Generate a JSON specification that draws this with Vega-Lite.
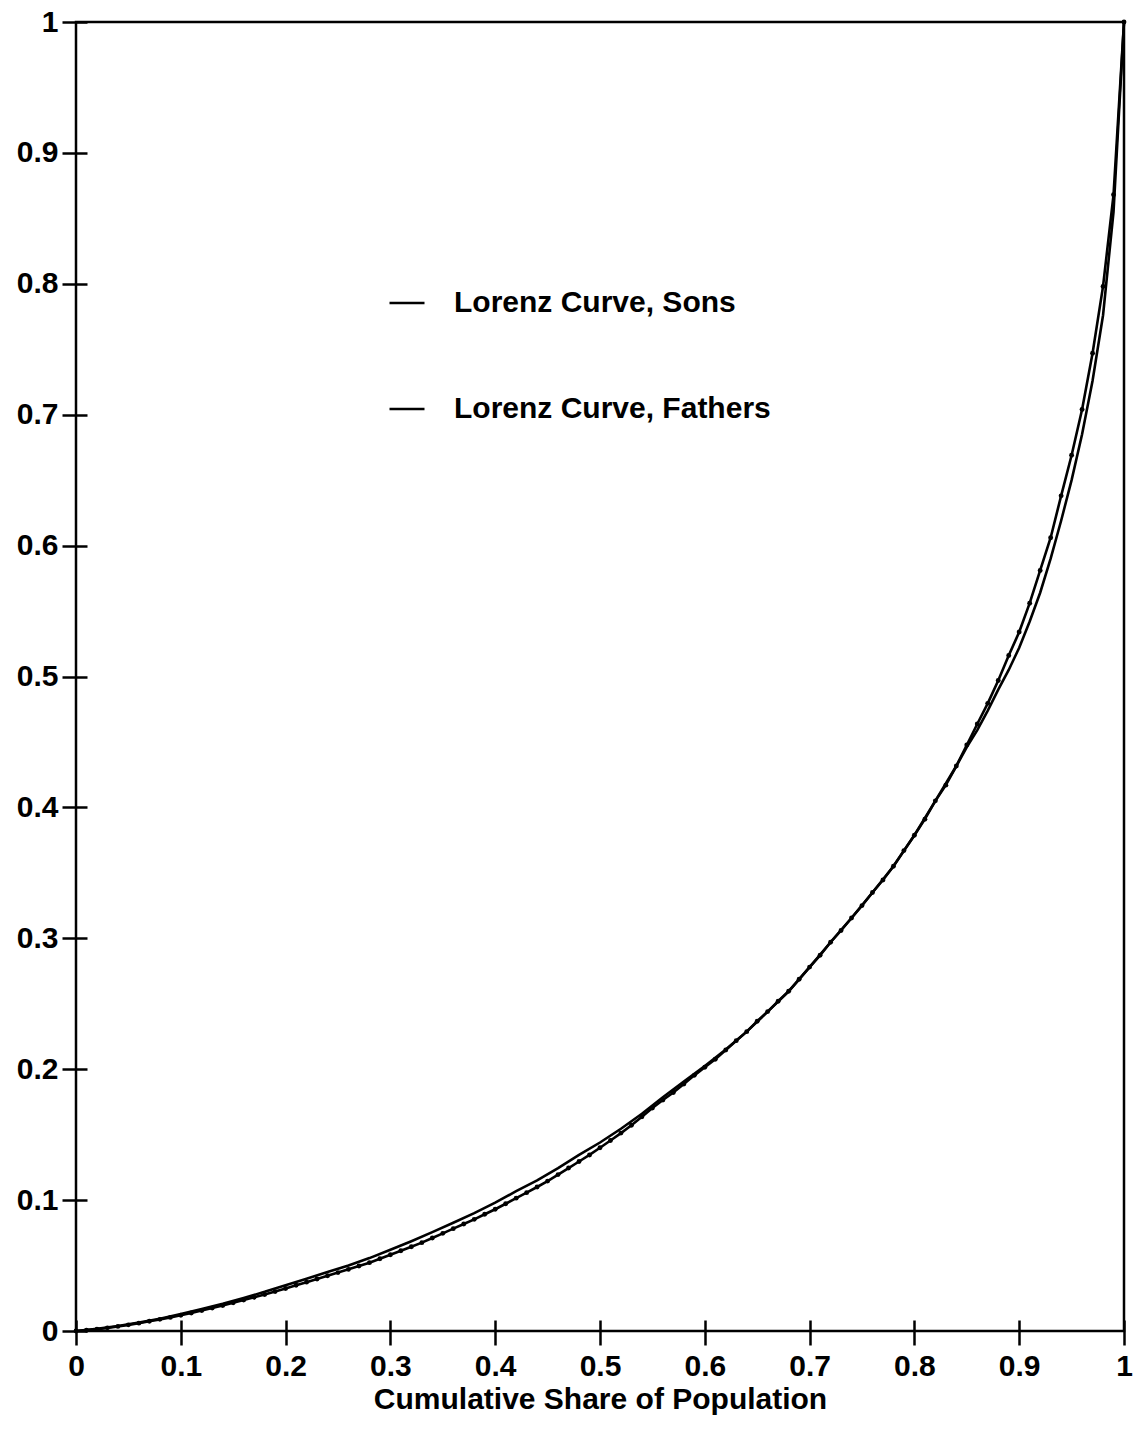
{
  "$schema": "https://vega.github.io/schema/vega-lite/v6.json",
  "autosize": {"type": "none"},
  "padding": {"left": 76, "top": 22, "right": 13, "bottom": 103},
  "width": 1048,
  "height": 1309,
  "background": "white",
  "config": {
    "view": {"stroke": "black", "strokeWidth": 2.5},
    "font": "Liberation Sans",
    "axis": {
      "domain": false,
      "grid": false,
      "offset": -11,
      "tickSize": 25,
      "tickWidth": 2.5,
      "tickColor": "black",
      "labelColor": "black",
      "labelFont": "Liberation Sans",
      "labelFontSize": 30,
      "labelFontWeight": "bold",
      "titleFont": "Liberation Sans",
      "titleFontSize": 30,
      "titleFontWeight": "bold",
      "titleColor": "black"
    }
  },
  "data": {
    "values": [
      {"series": "Lorenz Curve, Sons", "x": 0.00, "y": 0.0000},
      {"series": "Lorenz Curve, Sons", "x": 0.02, "y": 0.0016},
      {"series": "Lorenz Curve, Sons", "x": 0.04, "y": 0.0038},
      {"series": "Lorenz Curve, Sons", "x": 0.06, "y": 0.0064},
      {"series": "Lorenz Curve, Sons", "x": 0.08, "y": 0.0094},
      {"series": "Lorenz Curve, Sons", "x": 0.10, "y": 0.0130},
      {"series": "Lorenz Curve, Sons", "x": 0.12, "y": 0.0168},
      {"series": "Lorenz Curve, Sons", "x": 0.14, "y": 0.0208},
      {"series": "Lorenz Curve, Sons", "x": 0.16, "y": 0.0252},
      {"series": "Lorenz Curve, Sons", "x": 0.18, "y": 0.0299},
      {"series": "Lorenz Curve, Sons", "x": 0.20, "y": 0.0350},
      {"series": "Lorenz Curve, Sons", "x": 0.22, "y": 0.0400},
      {"series": "Lorenz Curve, Sons", "x": 0.24, "y": 0.0450},
      {"series": "Lorenz Curve, Sons", "x": 0.26, "y": 0.0501},
      {"series": "Lorenz Curve, Sons", "x": 0.28, "y": 0.0557},
      {"series": "Lorenz Curve, Sons", "x": 0.30, "y": 0.0621},
      {"series": "Lorenz Curve, Sons", "x": 0.32, "y": 0.0686},
      {"series": "Lorenz Curve, Sons", "x": 0.34, "y": 0.0755},
      {"series": "Lorenz Curve, Sons", "x": 0.36, "y": 0.0827},
      {"series": "Lorenz Curve, Sons", "x": 0.38, "y": 0.0900},
      {"series": "Lorenz Curve, Sons", "x": 0.40, "y": 0.0980},
      {"series": "Lorenz Curve, Sons", "x": 0.42, "y": 0.1068},
      {"series": "Lorenz Curve, Sons", "x": 0.44, "y": 0.1150},
      {"series": "Lorenz Curve, Sons", "x": 0.46, "y": 0.1245},
      {"series": "Lorenz Curve, Sons", "x": 0.48, "y": 0.1345},
      {"series": "Lorenz Curve, Sons", "x": 0.50, "y": 0.1440},
      {"series": "Lorenz Curve, Sons", "x": 0.52, "y": 0.1545},
      {"series": "Lorenz Curve, Sons", "x": 0.54, "y": 0.1660},
      {"series": "Lorenz Curve, Sons", "x": 0.56, "y": 0.1785},
      {"series": "Lorenz Curve, Sons", "x": 0.58, "y": 0.1905},
      {"series": "Lorenz Curve, Sons", "x": 0.60, "y": 0.2025},
      {"series": "Lorenz Curve, Sons", "x": 0.62, "y": 0.2150},
      {"series": "Lorenz Curve, Sons", "x": 0.64, "y": 0.2287},
      {"series": "Lorenz Curve, Sons", "x": 0.66, "y": 0.2440},
      {"series": "Lorenz Curve, Sons", "x": 0.68, "y": 0.2595},
      {"series": "Lorenz Curve, Sons", "x": 0.70, "y": 0.2780},
      {"series": "Lorenz Curve, Sons", "x": 0.72, "y": 0.2970},
      {"series": "Lorenz Curve, Sons", "x": 0.74, "y": 0.3155},
      {"series": "Lorenz Curve, Sons", "x": 0.76, "y": 0.3350},
      {"series": "Lorenz Curve, Sons", "x": 0.78, "y": 0.3550},
      {"series": "Lorenz Curve, Sons", "x": 0.80, "y": 0.3787},
      {"series": "Lorenz Curve, Sons", "x": 0.82, "y": 0.4050},
      {"series": "Lorenz Curve, Sons", "x": 0.84, "y": 0.4316},
      {"series": "Lorenz Curve, Sons", "x": 0.85, "y": 0.4460},
      {"series": "Lorenz Curve, Sons", "x": 0.86, "y": 0.4590},
      {"series": "Lorenz Curve, Sons", "x": 0.87, "y": 0.4740},
      {"series": "Lorenz Curve, Sons", "x": 0.88, "y": 0.4900},
      {"series": "Lorenz Curve, Sons", "x": 0.89, "y": 0.5050},
      {"series": "Lorenz Curve, Sons", "x": 0.90, "y": 0.5220},
      {"series": "Lorenz Curve, Sons", "x": 0.91, "y": 0.5420},
      {"series": "Lorenz Curve, Sons", "x": 0.92, "y": 0.5640},
      {"series": "Lorenz Curve, Sons", "x": 0.93, "y": 0.5900},
      {"series": "Lorenz Curve, Sons", "x": 0.94, "y": 0.6190},
      {"series": "Lorenz Curve, Sons", "x": 0.95, "y": 0.6500},
      {"series": "Lorenz Curve, Sons", "x": 0.96, "y": 0.6850},
      {"series": "Lorenz Curve, Sons", "x": 0.97, "y": 0.7260},
      {"series": "Lorenz Curve, Sons", "x": 0.98, "y": 0.7760},
      {"series": "Lorenz Curve, Sons", "x": 0.99, "y": 0.8550},
      {"series": "Lorenz Curve, Sons", "x": 1.00, "y": 1.0000},
      {"series": "Lorenz Curve, Fathers", "x": 0.00, "y": 0.0000},
      {"series": "Lorenz Curve, Fathers", "x": 0.01, "y": 0.0006},
      {"series": "Lorenz Curve, Fathers", "x": 0.02, "y": 0.0014},
      {"series": "Lorenz Curve, Fathers", "x": 0.03, "y": 0.0024},
      {"series": "Lorenz Curve, Fathers", "x": 0.04, "y": 0.0035},
      {"series": "Lorenz Curve, Fathers", "x": 0.05, "y": 0.0047},
      {"series": "Lorenz Curve, Fathers", "x": 0.06, "y": 0.0060},
      {"series": "Lorenz Curve, Fathers", "x": 0.07, "y": 0.0074},
      {"series": "Lorenz Curve, Fathers", "x": 0.08, "y": 0.0089},
      {"series": "Lorenz Curve, Fathers", "x": 0.09, "y": 0.0104},
      {"series": "Lorenz Curve, Fathers", "x": 0.10, "y": 0.0120},
      {"series": "Lorenz Curve, Fathers", "x": 0.11, "y": 0.0138},
      {"series": "Lorenz Curve, Fathers", "x": 0.12, "y": 0.0156},
      {"series": "Lorenz Curve, Fathers", "x": 0.13, "y": 0.0175},
      {"series": "Lorenz Curve, Fathers", "x": 0.14, "y": 0.0195},
      {"series": "Lorenz Curve, Fathers", "x": 0.15, "y": 0.0215},
      {"series": "Lorenz Curve, Fathers", "x": 0.16, "y": 0.0236},
      {"series": "Lorenz Curve, Fathers", "x": 0.17, "y": 0.0257},
      {"series": "Lorenz Curve, Fathers", "x": 0.18, "y": 0.0279},
      {"series": "Lorenz Curve, Fathers", "x": 0.19, "y": 0.0301},
      {"series": "Lorenz Curve, Fathers", "x": 0.20, "y": 0.0325},
      {"series": "Lorenz Curve, Fathers", "x": 0.21, "y": 0.0349},
      {"series": "Lorenz Curve, Fathers", "x": 0.22, "y": 0.0373},
      {"series": "Lorenz Curve, Fathers", "x": 0.23, "y": 0.0397},
      {"series": "Lorenz Curve, Fathers", "x": 0.24, "y": 0.0422},
      {"series": "Lorenz Curve, Fathers", "x": 0.25, "y": 0.0446},
      {"series": "Lorenz Curve, Fathers", "x": 0.26, "y": 0.0471},
      {"series": "Lorenz Curve, Fathers", "x": 0.27, "y": 0.0497},
      {"series": "Lorenz Curve, Fathers", "x": 0.28, "y": 0.0522},
      {"series": "Lorenz Curve, Fathers", "x": 0.29, "y": 0.0552},
      {"series": "Lorenz Curve, Fathers", "x": 0.30, "y": 0.0583},
      {"series": "Lorenz Curve, Fathers", "x": 0.31, "y": 0.0613},
      {"series": "Lorenz Curve, Fathers", "x": 0.32, "y": 0.0644},
      {"series": "Lorenz Curve, Fathers", "x": 0.33, "y": 0.0675},
      {"series": "Lorenz Curve, Fathers", "x": 0.34, "y": 0.0710},
      {"series": "Lorenz Curve, Fathers", "x": 0.35, "y": 0.0746},
      {"series": "Lorenz Curve, Fathers", "x": 0.36, "y": 0.0782},
      {"series": "Lorenz Curve, Fathers", "x": 0.37, "y": 0.0817},
      {"series": "Lorenz Curve, Fathers", "x": 0.38, "y": 0.0853},
      {"series": "Lorenz Curve, Fathers", "x": 0.39, "y": 0.0892},
      {"series": "Lorenz Curve, Fathers", "x": 0.40, "y": 0.0930},
      {"series": "Lorenz Curve, Fathers", "x": 0.41, "y": 0.0972},
      {"series": "Lorenz Curve, Fathers", "x": 0.42, "y": 0.1015},
      {"series": "Lorenz Curve, Fathers", "x": 0.43, "y": 0.1057},
      {"series": "Lorenz Curve, Fathers", "x": 0.44, "y": 0.1100},
      {"series": "Lorenz Curve, Fathers", "x": 0.45, "y": 0.1145},
      {"series": "Lorenz Curve, Fathers", "x": 0.46, "y": 0.1195},
      {"series": "Lorenz Curve, Fathers", "x": 0.47, "y": 0.1245},
      {"series": "Lorenz Curve, Fathers", "x": 0.48, "y": 0.1295},
      {"series": "Lorenz Curve, Fathers", "x": 0.49, "y": 0.1345},
      {"series": "Lorenz Curve, Fathers", "x": 0.50, "y": 0.1400},
      {"series": "Lorenz Curve, Fathers", "x": 0.51, "y": 0.1455},
      {"series": "Lorenz Curve, Fathers", "x": 0.52, "y": 0.1512},
      {"series": "Lorenz Curve, Fathers", "x": 0.53, "y": 0.1572},
      {"series": "Lorenz Curve, Fathers", "x": 0.54, "y": 0.1637},
      {"series": "Lorenz Curve, Fathers", "x": 0.55, "y": 0.1704},
      {"series": "Lorenz Curve, Fathers", "x": 0.56, "y": 0.1765},
      {"series": "Lorenz Curve, Fathers", "x": 0.57, "y": 0.1822},
      {"series": "Lorenz Curve, Fathers", "x": 0.58, "y": 0.1887},
      {"series": "Lorenz Curve, Fathers", "x": 0.59, "y": 0.1953},
      {"series": "Lorenz Curve, Fathers", "x": 0.60, "y": 0.2015},
      {"series": "Lorenz Curve, Fathers", "x": 0.61, "y": 0.2076},
      {"series": "Lorenz Curve, Fathers", "x": 0.62, "y": 0.2147},
      {"series": "Lorenz Curve, Fathers", "x": 0.63, "y": 0.2218},
      {"series": "Lorenz Curve, Fathers", "x": 0.64, "y": 0.2287},
      {"series": "Lorenz Curve, Fathers", "x": 0.65, "y": 0.2366},
      {"series": "Lorenz Curve, Fathers", "x": 0.66, "y": 0.2440},
      {"series": "Lorenz Curve, Fathers", "x": 0.67, "y": 0.2519},
      {"series": "Lorenz Curve, Fathers", "x": 0.68, "y": 0.2595},
      {"series": "Lorenz Curve, Fathers", "x": 0.69, "y": 0.2687},
      {"series": "Lorenz Curve, Fathers", "x": 0.70, "y": 0.2780},
      {"series": "Lorenz Curve, Fathers", "x": 0.71, "y": 0.2870},
      {"series": "Lorenz Curve, Fathers", "x": 0.72, "y": 0.2970},
      {"series": "Lorenz Curve, Fathers", "x": 0.73, "y": 0.3060},
      {"series": "Lorenz Curve, Fathers", "x": 0.74, "y": 0.3155},
      {"series": "Lorenz Curve, Fathers", "x": 0.75, "y": 0.3250},
      {"series": "Lorenz Curve, Fathers", "x": 0.76, "y": 0.3350},
      {"series": "Lorenz Curve, Fathers", "x": 0.77, "y": 0.3445},
      {"series": "Lorenz Curve, Fathers", "x": 0.78, "y": 0.3550},
      {"series": "Lorenz Curve, Fathers", "x": 0.79, "y": 0.3670},
      {"series": "Lorenz Curve, Fathers", "x": 0.80, "y": 0.3787},
      {"series": "Lorenz Curve, Fathers", "x": 0.81, "y": 0.3910},
      {"series": "Lorenz Curve, Fathers", "x": 0.82, "y": 0.4050},
      {"series": "Lorenz Curve, Fathers", "x": 0.83, "y": 0.4170},
      {"series": "Lorenz Curve, Fathers", "x": 0.84, "y": 0.4316},
      {"series": "Lorenz Curve, Fathers", "x": 0.85, "y": 0.4477},
      {"series": "Lorenz Curve, Fathers", "x": 0.86, "y": 0.4637},
      {"series": "Lorenz Curve, Fathers", "x": 0.87, "y": 0.4795},
      {"series": "Lorenz Curve, Fathers", "x": 0.88, "y": 0.4970},
      {"series": "Lorenz Curve, Fathers", "x": 0.89, "y": 0.5160},
      {"series": "Lorenz Curve, Fathers", "x": 0.90, "y": 0.5340},
      {"series": "Lorenz Curve, Fathers", "x": 0.91, "y": 0.5560},
      {"series": "Lorenz Curve, Fathers", "x": 0.92, "y": 0.5810},
      {"series": "Lorenz Curve, Fathers", "x": 0.93, "y": 0.6060},
      {"series": "Lorenz Curve, Fathers", "x": 0.94, "y": 0.6380},
      {"series": "Lorenz Curve, Fathers", "x": 0.95, "y": 0.6690},
      {"series": "Lorenz Curve, Fathers", "x": 0.96, "y": 0.7040},
      {"series": "Lorenz Curve, Fathers", "x": 0.97, "y": 0.7470},
      {"series": "Lorenz Curve, Fathers", "x": 0.98, "y": 0.7980},
      {"series": "Lorenz Curve, Fathers", "x": 0.99, "y": 0.8680},
      {"series": "Lorenz Curve, Fathers", "x": 1.00, "y": 1.0000}
    ]
  },
  "encoding": {
    "x": {
      "field": "x", "type": "quantitative",
      "scale": {"domain": [0, 1], "nice": false, "zero": false},
      "axis": {"values": [0, 0.1, 0.2, 0.3, 0.4, 0.5, 0.6, 0.7, 0.8, 0.9, 1], "format": "~g", "title": "Cumulative Share of Population", "labelPadding": 6, "titlePadding": 3, "labelFlush": false, "labelOverlap": false}
    },
    "y": {
      "field": "y", "type": "quantitative",
      "scale": {"domain": [0, 1], "nice": false, "zero": false},
      "axis": {"values": [0, 0.1, 0.2, 0.3, 0.4, 0.5, 0.6, 0.7, 0.8, 0.9, 1], "format": "~g", "title": null, "labelPadding": 4, "labelFlush": false, "labelOverlap": false}
    }
  },
  "layer": [
    {
      "mark": {"type": "line", "strokeWidth": 2.6, "interpolate": "linear"},
      "encoding": {
        "color": {
          "field": "series", "type": "nominal",
          "scale": {"domain": ["Lorenz Curve, Sons", "Lorenz Curve, Fathers"], "range": ["black", "black"]},
          "legend": {
            "orient": "none", "legendX": 312, "legendY": 262,
            "title": null, "symbolType": "stroke", "symbolSize": 1225,
            "symbolStrokeWidth": 2.6, "labelFontSize": 30, "labelFont": "Liberation Sans",
            "labelFontWeight": "bold", "labelLimit": 600,
            "labelColor": "black", "labelOffset": 28, "rowPadding": 72
          }
        }
      }
    },
    {
      "transform": [{"filter": "datum.series === 'Lorenz Curve, Fathers'"}],
      "mark": {"type": "point", "filled": true, "color": "black", "size": 24, "opacity": 1}
    }
  ]
}
